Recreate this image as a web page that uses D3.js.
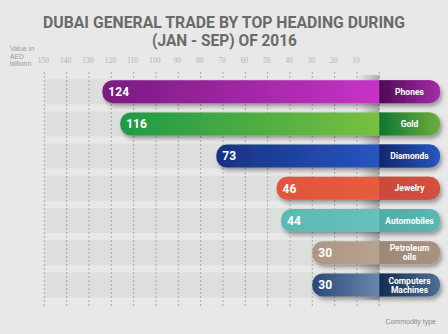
<!DOCTYPE html>
<html><head><meta charset="utf-8">
<script src="https://cdn.jsdelivr.net/npm/d3@7"></script>
<style>
html,body{margin:0;padding:0;background:#e8e8e8;}
svg{display:block;}
</style></head>
<body><svg id="c" width="448" height="334"></svg>
<script>
const categories = ["Phones","Gold","Diamonds","Jewelry","Automobiles","Petroleum oils","Computers Machines"];
const categoryLines = [["Phones"],["Gold"],["Diamonds"],["Jewelry"],["Automobiles"],["Petroleum","oils"],["Computers","Machines"]];
const values = [124,116,73,46,44,30,30];
const tickValues = [150,140,130,120,110,100,90,80,70,60,50,40,30,20,10];
const barColors = [["#7a1a80","#d838d8"],["#1e9a46","#8fc83f"],["#183282","#2c62d8"],["#e0553d","#e8603f"],["#5bb9b2","#6ec6bf"],["#ad9784","#c2ad9a"],["#2a4874","#9fc3e3"]];
const labelColors = [["#4c0b55","#a52ca8"],["#0e7634","#6cae3b"],["#11286a","#2a55c0"],["#c94a3b","#d4513f"],["#52aca6","#5db7b1"],["#9c8877","#a8937f"],["#152e4d","#4d6e95"]];

const svg = d3.select("#c");
const W = 448, H = 334;
svg.append("rect").attr("width",W).attr("height",H).attr("fill","#e8e8e8");

const x = d3.scaleLinear().domain([0,150]).range([379.3,44.3]);
const y = d3.scaleBand().domain(categories).range([75.6,301]).paddingInner(0.286).paddingOuter(0.143);
const bw = y.bandwidth();
const xEnd = 440, r = 10.5;

const defs = svg.append("defs");
categories.forEach((c,i)=>{
  const g = defs.append("linearGradient").attr("id","bg"+i).attr("x1","0").attr("x2","1").attr("y1","0").attr("y2","0");
  g.append("stop").attr("offset","0").attr("stop-color",barColors[i][0]);
  g.append("stop").attr("offset","1").attr("stop-color",barColors[i][1]);
  const l = defs.append("linearGradient").attr("id","lg"+i).attr("x1","0").attr("x2","1").attr("y1","0").attr("y2","0");
  l.append("stop").attr("offset","0").attr("stop-color",labelColors[i][0]);
  l.append("stop").attr("offset","1").attr("stop-color",labelColors[i][1]);
});
const sg = defs.append("linearGradient").attr("id","sh").attr("x1","0").attr("x2","1").attr("y1","0").attr("y2","0");
sg.append("stop").attr("offset","0").attr("stop-color","#000").attr("stop-opacity",0);
sg.append("stop").attr("offset","1").attr("stop-color","#000").attr("stop-opacity",0.25);
const f = defs.append("filter").attr("id","ds").attr("x","-10%").attr("y","-30%").attr("width","130%").attr("height","190%");
f.append("feDropShadow").attr("dx",2).attr("dy",3).attr("stdDeviation",2).attr("flood-color","#000").attr("flood-opacity",0.35);

// Title
const title = svg.append("g").attr("fill","#6a6a6a").attr("font-family","'Liberation Sans Narrow', Roboto, sans-serif").attr("font-weight","bold").attr("font-size",16);
title.append("text").attr("x",43).attr("y",27.8).attr("textLength",362).attr("lengthAdjust","spacingAndGlyphs").text("DUBAI GENERAL TRADE BY TOP HEADING DURING");
title.append("text").attr("x",152).attr("y",45.5).attr("textLength",145).attr("lengthAdjust","spacingAndGlyphs").text("(JAN - SEP) OF 2016");

// y-axis caption
const cap = svg.append("g").attr("fill","#9a9a9a").attr("font-family","'Liberation Sans', Arial, sans-serif").attr("font-size",6.8);
[["Value in",51],["AED",58.5],["billionn",66]].forEach(d=>cap.append("text").attr("x",10).attr("y",d[1]).text(d[0]));

// bands
svg.append("g").selectAll("rect").data(categories).join("rect")
  .attr("x",x(150)).attr("width",x(0)-x(150))
  .attr("y",d=>y(d)-1).attr("height",bw+2).attr("fill","#dcdfdc");

// grid
svg.append("g").selectAll("line").data(tickValues.concat([0])).join("line")
  .attr("x1",d=>x(d)).attr("x2",d=>x(d)).attr("y1",72).attr("y2",307)
  .attr("stroke","#9a9a9a").attr("stroke-width",0.8).attr("stroke-dasharray","2,2");

// tick labels
svg.append("g").selectAll("text").data(tickValues).join("text")
  .attr("x",d=>x(d)-1).attr("y",63).attr("text-anchor","middle")
  .attr("font-family","'Liberation Serif', serif").attr("font-size",7.5).attr("fill","#b2b2b2").text(d=>d);

// shadow strip near zero
svg.append("rect").attr("x",x(0)-21).attr("width",21).attr("y",75).attr("height",225).attr("fill","url(#sh)");

// bars
const bars = svg.append("g").selectAll("g").data(categories).join("g").attr("filter","url(#ds)");
bars.append("rect").attr("x",(d,i)=>x(values[i])).attr("y",d=>y(d)).attr("width",(d,i)=>xEnd-x(values[i])).attr("height",bw)
  .attr("rx",r).attr("fill",(d,i)=>"url(#bg"+i+")");
bars.append("path").attr("d",d=>{
  const x0=x(0), y0=y(d), y1=y(d)+bw;
  return `M${x0},${y0}H${xEnd-r}A${r},${r} 0 0 1 ${xEnd},${y0+r}V${y1-r}A${r},${r} 0 0 1 ${xEnd-r},${y1}H${x0}Z`;
}).attr("fill",(d,i)=>"url(#lg"+i+")");

// value labels
svg.append("g").selectAll("text").data(categories).join("text")
  .attr("x",(d,i)=>x(values[i])+6).attr("y",d=>y(d)+bw/2+4.3)
  .attr("font-family","Roboto, sans-serif").attr("font-weight","bold").attr("font-size",12).attr("fill","#fff")
  .text((d,i)=>values[i]);

// category labels
const lab = svg.append("g").attr("font-family","Roboto, sans-serif").attr("font-weight","bold").attr("font-size",8.5).attr("fill","#fff").attr("text-anchor","middle");
categories.forEach((c,i)=>{
  const lines = categoryLines[i];
  const cy = y(c)+bw/2;
  lines.forEach((t,j)=>{
    lab.append("text").attr("x",409.5).attr("y",cy+3.1+(j-(lines.length-1)/2)*9).text(t);
  });
});

svg.append("text").attr("x",436).attr("y",324).attr("text-anchor","end").attr("font-family","'Liberation Sans', Arial, sans-serif")
  .attr("font-size",7).attr("fill","#8a8a8a").text("Commodity type");
</script></body></html>
